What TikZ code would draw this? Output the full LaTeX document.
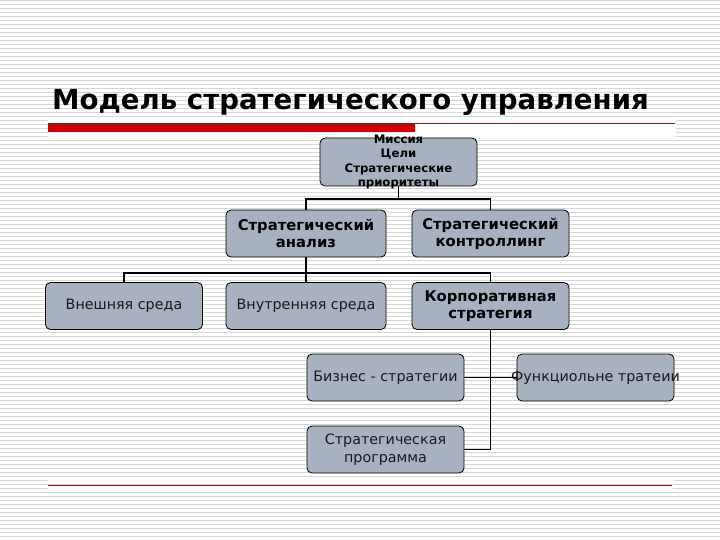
\documentclass[tikz,border=0pt]{standalone}
\usepackage{fontspec}
\setmainfont{DejaVu Sans}
\definecolor{boxfill}{HTML}{A7B1BF}
\definecolor{stripe}{HTML}{D6D6D6}
\definecolor{barred}{HTML}{D00000}
\definecolor{darkred}{HTML}{8A1A1A}
\tikzset{
  box/.style={draw=black, line width=0.8pt, fill=boxfill, rounded corners=5pt,
    minimum width=157pt, minimum height=47pt, inner sep=0pt, align=center},
  boldtxt/.style={font=\bfseries\fontsize{14.8}{17}\selectfont},
  regtxt/.style={font=\fontsize{14.3}{18}\selectfont, text=black!90},
  conn/.style={draw=black, line width=1.9pt}
}
\begin{document}
\begin{tikzpicture}[x=1pt,y=-1pt]
\useasboundingbox (0,0) rectangle (720,540);
% background stripes
\fill[white] (0,0) rectangle (720,540);
\foreach \i in {0,...,135} {
  \fill[stripe] (0,{\i*4}) rectangle (720,{\i*4+1.4});
}
% white bands round the rules
\fill[white] (48,117) rectangle (676,137);
\fill[white] (48,480) rectangle (673,491);
% title
\node[anchor=base west, inner sep=0pt, font=\bfseries\fontsize{27.6}{32}\selectfont] (title) at (52,110) {Модель стратегического управления};
% rules
\fill[barred] (48,123) rectangle (415,132);
\draw[darkred, line width=0.8pt] (48,123.3) -- (675,123.3);
\draw[darkred, line width=1pt] (48,485.5) -- (672,485.5);
\draw[red!25, line width=0.6pt] (48,484.2) -- (672,484.2);
% boxes
\node[box] (m) at (398.5,162) [minimum height=48pt] {};
\node[align=center, inner sep=0pt, font=\bfseries\fontsize{11.7}{14.3}\selectfont] (mt) at (m.center) {Миссия\\Цели\\Стратегические\\приоритеты};
\node[box, boldtxt, minimum width=160pt] (sa) at (306,233.5) {Стратегический\\анализ};
\node[box, boldtxt] (sk) at (490.5,233.5) {Стратегический\\контроллинг};
\node[box, regtxt] (vn) at (124,306) {Внешняя среда};
\node[box, regtxt, minimum width=160pt] (vt) at (306,306) {Внутренняя среда};
\node[box, boldtxt] (ks) at (490.5,306) {Корпоративная\\стратегия};
\node[box, regtxt] (bs) at (385.5,377.5) {Бизнес - стратегии};
\node[box] (fs) at (595.5,377.5) {};
\node[regtxt, inner sep=0pt] (ft) at (fs.center) {Функциольне тратеии};
\node[box, regtxt] (sp) at (385.5,449.5) {Стратегическая\\программа};
% connectors
\draw[conn] (m.south) -- ++(0,13) -| (sa.north);
\draw[conn] (m.south) -- ++(0,13) -| (sk.north);
\draw[conn] (sa.south) -- ++(0,15.5) -| (vn.north);
\draw[conn] (sa.south) -- ++(0,15.5) -| (vt.north);
\draw[conn] (sa.south) -- ++(0,15.5) -| (ks.north);
\draw[conn] (ks.south) |- (sp.east);
\draw[conn] (bs.east) -- (fs.west);
\end{tikzpicture}
\end{document}
